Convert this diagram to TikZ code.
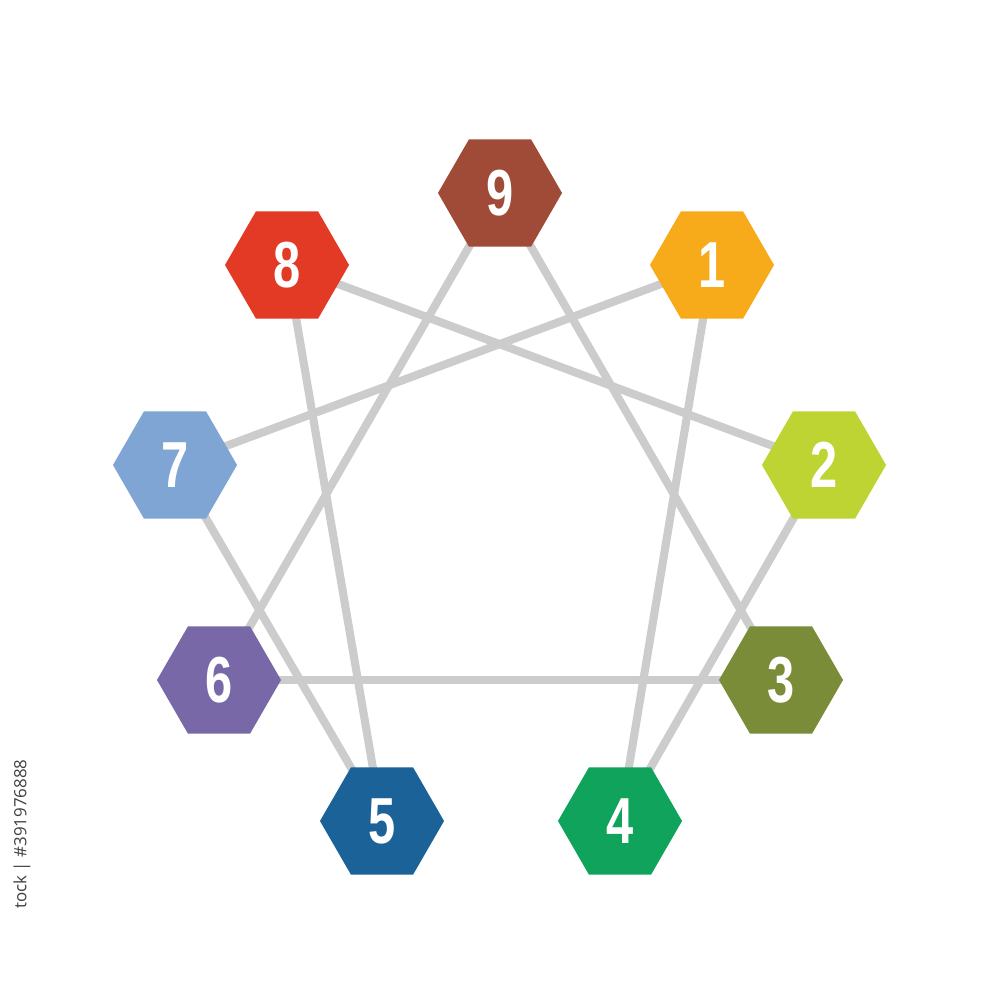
\documentclass[tikz,border=0pt]{standalone}
\usepackage{fontspec}
\setmainfont{Liberation Sans}
\newfontfamily\idfont{Open Sans}
\usetikzlibrary{shapes.geometric,backgrounds}
\definecolor{c9}{RGB}{160,75,56}
\definecolor{c8}{RGB}{226,58,36}
\definecolor{c1}{RGB}{247,171,26}
\definecolor{c2}{RGB}{190,212,50}
\definecolor{c3}{RGB}{122,140,56}
\definecolor{c4}{RGB}{16,163,92}
\definecolor{c5}{RGB}{27,98,153}
\definecolor{c6}{RGB}{120,104,168}
\definecolor{c7}{RGB}{127,165,213}
\definecolor{linegray}{RGB}{204,204,204}
\tikzset{
  hexnode/.style={regular polygon, regular polygon sides=6, minimum size=1.24cm,
    inner sep=0pt, outer sep=0pt, draw=none, fill=#1, text=white,
    font=\fontsize{18.5}{20}\selectfont\bfseries},
  link/.style={draw=linegray, line width=2.3pt}
}
\newcommand{\numtxt}[1]{\scalebox{0.75}[1]{#1}}
\begin{document}
\begin{tikzpicture}[x=0.01cm,y=-0.01cm]
\useasboundingbox (0,0) rectangle (1000,1000);
\node[hexnode=c9] (n9) at (500,193) {\numtxt{9}};
\node[hexnode=c1] (n1) at (712,265) {\numtxt{1}};
\node[hexnode=c2] (n2) at (824,465) {\numtxt{2}};
\node[hexnode=c3] (n3) at (781,680) {\numtxt{3}};
\node[hexnode=c4] (n4) at (620,821) {\numtxt{4}};
\node[hexnode=c5] (n5) at (382,821) {\numtxt{5}};
\node[hexnode=c6] (n6) at (219,680) {\numtxt{6}};
\node[hexnode=c7] (n7) at (175,465) {\numtxt{7}};
\node[hexnode=c8] (n8) at (287,265) {\numtxt{8}};
\begin{scope}[on background layer]
\fill[white] (0,0) rectangle (1000,1000);
\draw[link] (n1.center) -- (n4.center);
\draw[link] (n4.center) -- (n2.center);
\draw[link] (n2.center) -- (n8.center);
\draw[link] (n8.center) -- (n5.center);
\draw[link] (n5.center) -- (n7.center);
\draw[link] (n7.center) -- (n1.center);
\draw[link] (n9.center) -- (n3.center);
\draw[link] (n3.center) -- (n6.center);
\draw[link] (n6.center) -- (n9.center);
\end{scope}
\node[rotate=90, text=black!75, font=\idfont\fontsize{4.8}{6}\selectfont, inner sep=0pt] (stockid) at (22,834) {tock | \#391976888};
\end{tikzpicture}
\end{document}
